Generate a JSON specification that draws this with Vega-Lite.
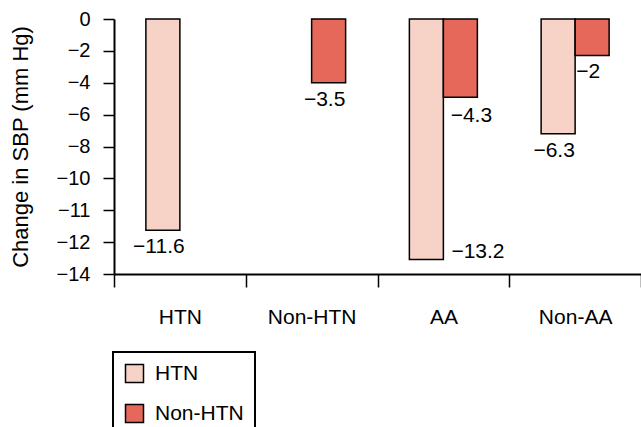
{
  "$schema": "https://vega.github.io/schema/vega-lite/v6.json",
  "autosize": "none",
  "padding": {"left": 114, "top": 19, "right": 0, "bottom": 153},
  "width": 527,
  "height": 255,
  "background": "white",
  "config": {
    "font": "Liberation Sans",
    "view": {"stroke": null},
    "axis": {"grid": false, "domainColor": "black", "domainWidth": 2, "tickColor": "black", "tickWidth": 1.5, "labelColor": "black", "titleColor": "black"}
  },
  "data": {
    "values": [
      {"category": "HTN", "group": "HTN", "value": -11.6, "label": "−11.6"},
      {"category": "Non-HTN", "group": "Non-HTN", "value": -3.5, "label": "−3.5"},
      {"category": "AA", "group": "HTN", "value": -13.2, "label": "−13.2"},
      {"category": "AA", "group": "Non-HTN", "value": -4.3, "label": "−4.3"},
      {"category": "Non-AA", "group": "HTN", "value": -6.3, "label": "−6.3"},
      {"category": "Non-AA", "group": "Non-HTN", "value": -2, "label": "−2"}
    ]
  },
  "encoding": {
    "x": {
      "field": "category", "type": "nominal",
      "sort": ["HTN", "Non-HTN", "AA", "Non-AA"],
      "scale": {"paddingInner": 0, "paddingOuter": 0},
      "axis": {"title": null, "labelAngle": 0, "tickBand": "extent", "tickSize": 13, "labelPadding": 19, "labelFontSize": 21}
    },
    "xOffset": {
      "field": "group", "type": "nominal",
      "sort": ["HTN", "Non-HTN"],
      "scale": {"domain": ["HTN", "Non-HTN"], "paddingInner": 0, "paddingOuter": 0.9375}
    },
    "y": {
      "field": "value", "type": "quantitative",
      "scale": {"domain": [-14, 0], "nice": false, "zero": false},
      "axis": {
        "title": "Change in SBP (mm Hg)",
        "titleFontSize": 22, "titleFontWeight": "normal", "titlePadding": 24,
        "values": [0, -1.75, -3.5, -5.25, -7, -8.75, -10.5, -12.25, -14],
        "labelExpr": "datum.value == 0 ? '0' : '−' + (datum.value > -9 ? round(-datum.value / 1.75) * 2 : (datum.value > -11 ? 11 : (datum.value > -13 ? 12 : 14)))",
        "labelFontSize": 20, "tickSize": 11, "labelPadding": 13
      }
    }
  },
  "layer": [
    {
      "mark": {"type": "bar", "stroke": "black", "strokeWidth": 1.5},
      "encoding": {
        "y2": {"datum": 0},
        "color": {
          "field": "group", "type": "nominal",
          "scale": {"domain": ["HTN", "Non-HTN"], "range": ["#f7d3c7", "#e5685b"]},
          "legend": {
            "title": null, "orient": "none", "legendX": -1, "legendY": 333,
            "padding": 11, "strokeColor": "black",
            "symbolType": "square", "symbolSize": 324, "symbolStrokeColor": "black", "symbolStrokeWidth": 1.5,
            "labelFontSize": 21, "labelOffset": 10, "rowPadding": 15, "labelColor": "black",
            "encode": {
              "legend": {"update": {"strokeWidth": {"value": 2}}}
            }
          }
        }
      }
    },
    {
      "transform": [{"filter": "(datum.category == 'HTN') || (datum.category == 'Non-HTN') || (datum.category == 'Non-AA')"}],
      "mark": {"type": "text", "align": "center", "baseline": "top", "dx": -4, "dy": 6, "fontSize": 21, "color": "black"},
      "encoding": {"text": {"field": "label"}}
    },
    {
      "transform": [{"filter": "datum.category == 'AA' && datum.group == 'Non-HTN'"}],
      "mark": {"type": "text", "align": "center", "baseline": "top", "dx": 11, "dy": 8, "fontSize": 21, "color": "black"},
      "encoding": {"text": {"field": "label"}}
    },
    {
      "transform": [{"filter": "datum.category == 'AA' && datum.group == 'HTN'"}],
      "mark": {"type": "text", "align": "left", "baseline": "alphabetic", "dx": 25, "dy": -1, "fontSize": 21, "color": "black"},
      "encoding": {"text": {"field": "label"}}
    }
  ]
}
